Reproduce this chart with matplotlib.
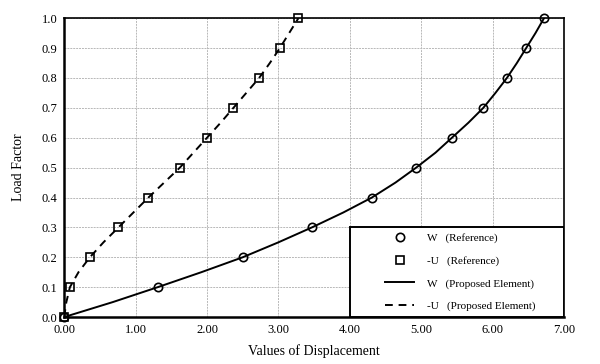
import numpy as np
import matplotlib
matplotlib.use("Agg")
import matplotlib.pyplot as plt
from matplotlib.patches import Rectangle

plt.rcParams['font.family'] = ['Liberation Serif', 'DejaVu Serif']

# reference points
load_ref = [0.0, 0.1, 0.2, 0.3, 0.4, 0.5, 0.6, 0.7, 0.8, 0.9, 1.0]
w_ref = [0.0, 1.31, 2.50, 3.47, 4.31, 4.93, 5.43, 5.87, 6.20, 6.47, 6.72]
u_ref = [0.0, 0.08, 0.36, 0.76, 1.18, 1.62, 2.00, 2.37, 2.73, 3.02, 3.28]

# proposed element curves
load_fe = [0.0, 0.05, 0.1, 0.15, 0.2, 0.25, 0.3, 0.35, 0.4, 0.45, 0.5,
           0.55, 0.6, 0.65, 0.7, 0.75, 0.8, 0.85, 0.9, 0.95, 1.0]
w_fe = [0.0, 0.68, 1.31, 1.92, 2.50, 3.00, 3.47, 3.91, 4.31, 4.64, 4.93,
        5.20, 5.43, 5.66, 5.87, 6.04, 6.20, 6.34, 6.47, 6.60, 6.72]
u_fe = [0.0, 0.03, 0.08, 0.20, 0.36, 0.55, 0.76, 0.97, 1.18, 1.40, 1.62,
        1.81, 2.00, 2.19, 2.37, 2.55, 2.73, 2.88, 3.02, 3.15, 3.28]

fig = plt.figure(figsize=(6, 3.64), dpi=100)
ax = fig.add_axes([0.107, 0.129, 0.833, 0.821])

ax.plot(w_fe, load_fe, '-', color='black', lw=1.4, label='W   (Proposed Element)')
ax.plot(u_fe, load_fe, '--', color='black', lw=1.4, dashes=(4, 3), label='-U   (Proposed Element)')
ax.plot(w_ref, load_ref, 'o', mfc='none', mec='black', mew=1.2, ms=6, clip_on=False,
        zorder=5, label='W   (Reference)')
ax.plot(u_ref, load_ref, 's', mfc='none', mec='black', mew=1.2, ms=6, clip_on=False,
        zorder=5, label='-U   (Reference)')

ax.set_xlim(0, 7)
ax.set_ylim(0, 1)
ax.set_xticks(np.arange(0, 7.01, 1))
ax.set_yticks(np.arange(0, 1.01, 0.1))
ax.set_xticklabels(['%.2f' % v for v in np.arange(0, 7.01, 1)])
ax.set_yticklabels(['%.1f' % v for v in np.arange(0, 1.01, 0.1)])
ax.tick_params(length=0, labelsize=9, pad=5)
ax.grid(True, color='#b8b8b8', linestyle=(0, (2, 1)), lw=0.7)

for side in ['left', 'bottom']:
    ax.spines[side].set_linewidth(1.8)
for side in ['top', 'right']:
    ax.spines[side].set_linewidth(1.2)

ax.set_xlabel('Values of Displacement', fontsize=10, labelpad=6)
ax.set_ylabel('Load Factor', fontsize=10, labelpad=12)

# legend box
ax.add_patch(Rectangle((4, 0), 3, 0.3, facecolor='white', edgecolor='black', lw=1.4, zorder=3))
h, l = ax.get_legend_handles_labels()
order = [2, 3, 0, 1]
leg = ax.legend([h[i] for i in order], [l[i] for i in order], frameon=False,
                loc='center', bbox_to_anchor=(5.55, 0.15), bbox_transform=ax.transData,
                fontsize=8, handlelength=2.6, labelspacing=1.15, handletextpad=1.2)
leg.set_zorder(6)

fig.savefig('out.png', dpi=100)
